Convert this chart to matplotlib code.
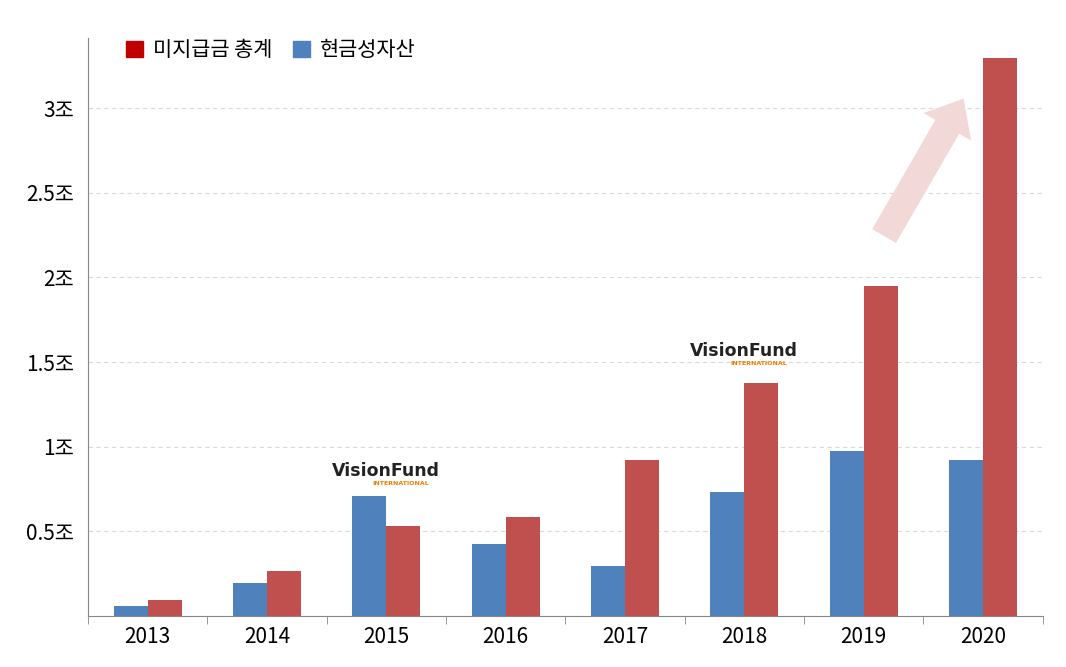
import matplotlib
matplotlib.use('Agg')
import matplotlib.pyplot as plt
from matplotlib.patches import Patch
import numpy as np

plt.rcParams['font.family'] = ['Noto Sans CJK KR', 'DejaVu Sans']

years = ['2013', '2014', '2015', '2016', '2017', '2018', '2019', '2020']
cash = [0.06, 0.195, 0.71, 0.425, 0.295, 0.73, 0.975, 0.92]
unpaid = [0.095, 0.265, 0.53, 0.585, 0.92, 1.375, 1.95, 3.295]
yticks = [0.5, 1, 1.5, 2, 2.5, 3]
ylabels = ['0.5조', '1조', '1.5조', '2조', '2.5조', '3조']

fig = plt.figure(figsize=(10.66, 6.67), dpi=100)
ax = fig.add_axes([0.0826, 0.0765, 0.8954, 0.8665])
x = np.arange(len(years))
w = 0.285
ax.bar(x - w / 2, cash, w, color='#4f81bd')
ax.bar(x + w / 2, unpaid, w, color='#c0504d')

ax.set_xlim(-0.5, 7.5)
ax.set_ylim(0, 3.414)
ax.set_xticks(x)
ax.set_xticklabels(years, fontsize=15)
ax.set_xticks(np.arange(-0.5, 8, 1), minor=True)
ax.tick_params(axis='x', which='major', length=0, pad=7)
ax.tick_params(axis='x', which='minor', length=6, color='#888888')
ax.set_yticks(yticks)
ax.set_yticklabels(ylabels, fontsize=15)
ax.tick_params(axis='y', length=0, pad=10)
ax.grid(axis='y', color='#d9d9d9', linestyle=(0, (4, 3)), linewidth=0.8)
ax.set_axisbelow(True)
for s in ['top', 'right']:
    ax.spines[s].set_visible(False)
ax.spines['left'].set_color('#888888')
ax.spines['bottom'].set_color('#888888')

handles = [Patch(color='#c00000', label='미지급금 총계'), Patch(color='#4f81bd', label='현금성자산')]
ax.legend(handles=handles, loc='upper left', bbox_to_anchor=(0.02, 1.03), ncol=2, frameon=False,
          fontsize=15, handlelength=0.8, handleheight=0.8, handletextpad=0.5, columnspacing=1.0)

# VisionFund logos
for lx, ly in [(2.0, 0.805), (5.0, 1.515)]:
    ax.text(lx, ly, 'VisionFund', fontsize=12.5, fontweight='bold', ha='center', va='bottom',
            color='#222222', family='DejaVu Sans')
    ax.text(lx + 0.12, ly - 0.01, 'INTERNATIONAL', fontsize=4.5, fontweight='bold', ha='center',
            va='top', color='#f07d00', family='DejaVu Sans')

ax.annotate('', xy=(6.85, 3.07), xytext=(6.16, 2.23),
            arrowprops=dict(arrowstyle='simple,head_width=2.2,head_length=1.3,tail_width=1.1',
                            mutation_scale=18, color='#f2d9d8', lw=0))

fig.savefig('out.png', dpi=100)
